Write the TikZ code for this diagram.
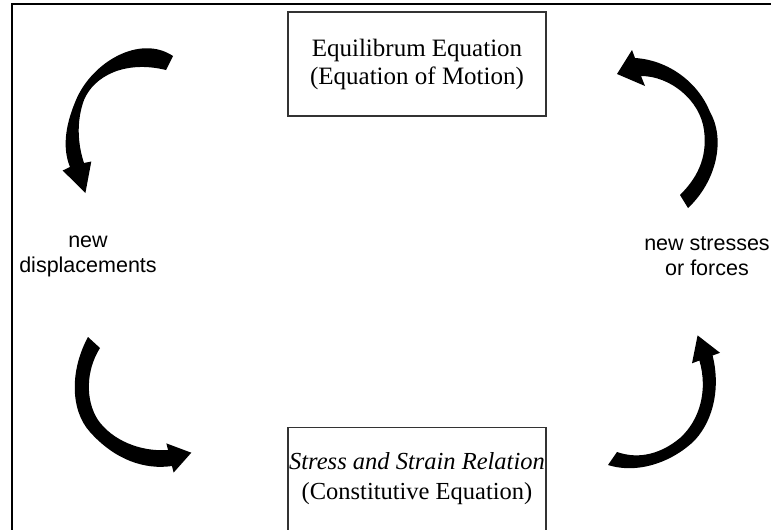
\documentclass[tikz,border=0pt]{standalone}
\usepackage{fontspec}
\setmainfont{Liberation Serif}
\newfontfamily\sidesans{Liberation Sans}
\usetikzlibrary{positioning}

\begin{document}
\begin{tikzpicture}
	[x=1pt,y=-1pt,
	eqbox/.style={rectangle,draw=black!80,line width=1.2pt,inner sep=0pt,minimum width=258pt,minimum height=104pt,align=center,font=\fontsize{25}{28}\selectfont},
	sidetext/.style={align=center,inner sep=0pt,font=\sidesans\fontsize{21.5}{25}\selectfont},
	bigarrow/.style={fill=black,draw=none}]
	\clip (0,0) rectangle (771,530);
	\draw [line width=1.5pt] (12,4) rectangle (790,545);

	\node [eqbox] (eq) at (417,64) {Equilibrum Equation\\(Equation of Motion)};
	\node [eqbox,minimum height=103pt,font=\fontsize{24.5}{30}\selectfont] (cons) [below=310pt of eq] {\textit{Stress and Strain Relation}\\(Constitutive Equation)};

	\node [sidetext] (disp) at (88,256) {new\\displacements};
	\node [sidetext] (stress) at (707,256) {new stresses\\or forces};

	% top left
	\fill [bigarrow] (173,56) .. controls (140,34) and (92,62) .. (76,100) .. controls (64,128) and (63,150) .. (70,167)
		-- (62.7,170.5) -- (85.4,193) -- (91.3,161.5) -- (84,163)
		.. controls (78,145) and (76,122) .. (84,100) .. controls (94,76) and (125,60) .. (166,70) -- cycle;
	% top right
	\fill [bigarrow] (688,208) .. controls (716,182) and (726,140) .. (710,112) .. controls (698,82) and (668,60) .. (635,58)
		-- (632,50) -- (617,74) -- (645,86) -- (641,76)
		.. controls (670,76) and (700,100) .. (704,130) .. controls (708,160) and (695,180) .. (680,195) -- cycle;
	% bottom left
	\fill [bigarrow] (88,337) .. controls (70,370) and (70,410) .. (90,432) .. controls (115,460) and (145,470) .. (172,466)
		-- (173.6,472.6) -- (191.3,452.7) -- (166.4,443.4) -- (168,450)
		.. controls (140,452) and (112,440) .. (98,420) .. controls (85,400) and (86,370) .. (100,348) -- cycle;
	% bottom right
	\fill [bigarrow] (608,465) .. controls (640,475) and (675,460) .. (695,440) .. controls (715,418) and (720,385) .. (712.6,355.5)
		-- (720,352.8) -- (697.6,335.4) -- (692,363.3) -- (699.4,360.5)
		.. controls (708,390) and (700,420) .. (680,438) .. controls (662,453) and (640,460) .. (617,452) -- cycle;

\end{tikzpicture}
\end{document}
